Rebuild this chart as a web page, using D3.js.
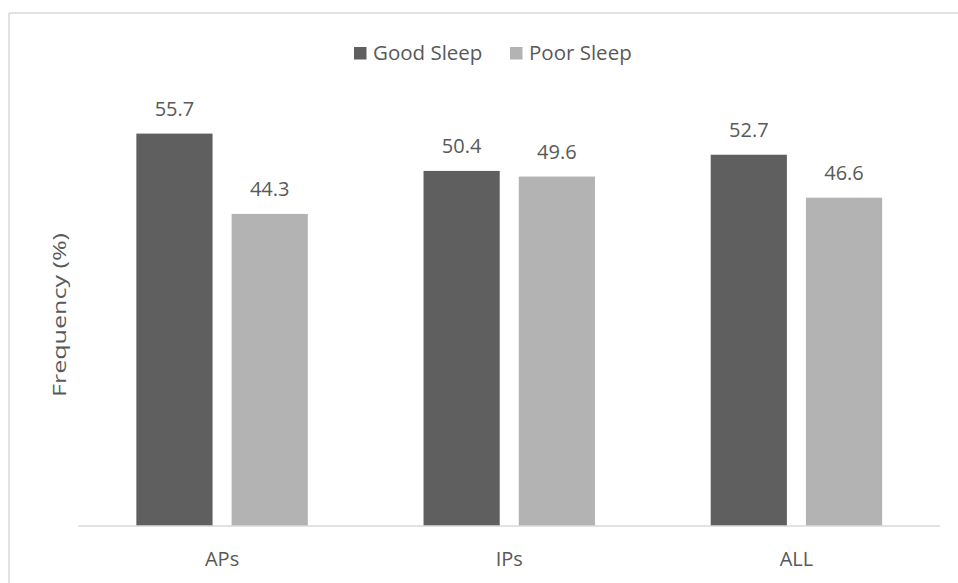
<!DOCTYPE html>
<html>
<head>
<meta charset="utf-8">
<script src="https://cdn.jsdelivr.net/npm/d3@7"></script>
<style>
  html, body { margin: 0; padding: 0; background: #ffffff; }
  svg { display: block; }
  text { font-family: "Open Sans", "Noto Sans", sans-serif; fill: #595959; }
</style>
</head>
<body>
<svg id="chart" width="958" height="583"></svg>
<script>
// Sleep quality frequency by group
const categories = ["APs", "IPs", "ALL"];
const seriesNames = ["Good Sleep", "Poor Sleep"];
const goodSleep = [55.7, 50.4, 52.7];
const poorSleep = [44.3, 49.6, 46.6];
const seriesColors = ["#5f5f5f", "#b3b3b3"];
const yTitle = "Frequency (%)";

const svg = d3.select("#chart");
const W = 958, H = 583;

// chart frame (top and left edges)
svg.append("line").attr("x1", 9).attr("x2", W).attr("y1", 13).attr("y2", 13)
  .attr("stroke", "#d9d9d9").attr("stroke-width", 1.5);
svg.append("line").attr("x1", 9).attr("x2", 9).attr("y1", 13).attr("y2", H)
  .attr("stroke", "#d9d9d9").attr("stroke-width", 1.5);

const plot = { left: 78.5, right: 940, top: 103.3, bottom: 526 };

const x0 = d3.scaleBand().domain(categories)
  .range([plot.left, plot.right]).paddingInner(0.403).paddingOuter(0.2015);
const x1 = d3.scaleBand().domain(seriesNames)
  .range([0, x0.bandwidth()]).paddingInner(0.2);
const y = d3.scaleLinear().domain([0, 60]).range([plot.bottom, plot.top]);

const rows = categories.map((c, i) => ({
  cat: c,
  values: [
    { s: seriesNames[0], v: goodSleep[i], color: seriesColors[0] },
    { s: seriesNames[1], v: poorSleep[i], color: seriesColors[1] }
  ]
}));

const groups = svg.append("g").selectAll("g").data(rows).join("g")
  .attr("transform", d => `translate(${x0(d.cat)},0)`);

groups.selectAll("rect").data(d => d.values).join("rect")
  .attr("x", d => x1(d.s))
  .attr("width", x1.bandwidth())
  .attr("y", d => y(d.v))
  .attr("height", d => y(0) - y(d.v))
  .attr("fill", d => d.color);

groups.selectAll("text.val").data(d => d.values).join("text")
  .attr("class", "val")
  .attr("x", d => x1(d.s) + x1.bandwidth() / 2)
  .attr("y", d => y(d.v) - 17.5)
  .attr("text-anchor", "middle")
  .attr("font-size", 20)
  .text(d => d.v.toFixed(1));

// category axis
const xAxis = svg.append("g")
  .attr("transform", `translate(0,${plot.bottom})`)
  .call(d3.axisBottom(x0).tickSize(0).tickPadding(0));
xAxis.select(".domain").attr("stroke", "#d9d9d9").attr("stroke-width", 1.5)
  .attr("d", `M${plot.left},0H${plot.right}`);
xAxis.selectAll(".tick text")
  .attr("font-family", "Open Sans, Noto Sans, sans-serif")
  .attr("font-size", 20).attr("fill", "#595959")
  .attr("dy", null).attr("y", 40);

// y-axis title
svg.append("text")
  .attr("transform", `translate(66,315) rotate(-90)`)
  .attr("text-anchor", "middle")
  .attr("font-size", 19)
  .attr("textLength", 164)
  .attr("lengthAdjust", "spacingAndGlyphs")
  .text(yTitle);

// legend
const legendPos = [354, 510];
const legend = svg.append("g").selectAll("g").data(seriesNames).join("g")
  .attr("transform", (d, i) => `translate(${legendPos[i]},0)`);
legend.append("rect").attr("x", 0).attr("y", 47).attr("width", 12.5).attr("height", 12.5)
  .attr("fill", (d, i) => seriesColors[i]);
legend.append("text").attr("x", 19).attr("y", 59.5).attr("font-size", 20.5)
  .text(d => d);
</script>
</body>
</html>
